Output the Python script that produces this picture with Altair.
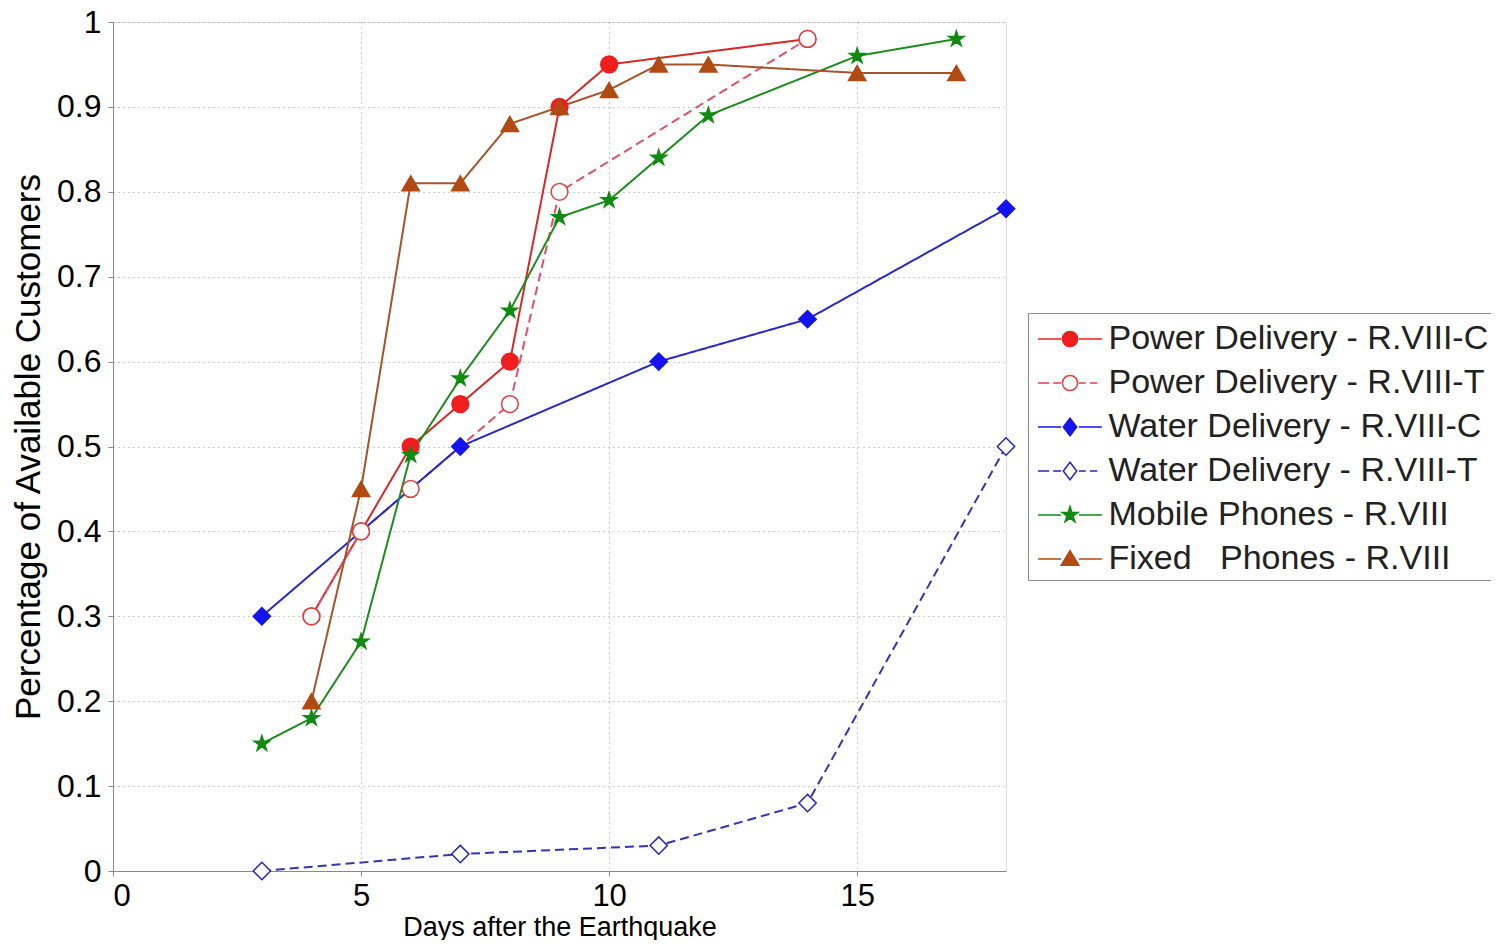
import altair as alt
import pandas as pd

FONT = "Liberation Sans"

series_names = [
    "Power Delivery - R.VIII-C",
    "Power Delivery - R.VIII-T",
    "Water Delivery - R.VIII-C",
    "Water Delivery - R.VIII-T",
    "Mobile Phones - R.VIII",
    "Fixed\u00a0\u00a0\u00a0Phones - R.VIII",
]

power_c_days = [4, 5, 6, 7, 8, 9, 10, 14]
power_c_vals = [0.30, 0.40, 0.50, 0.55, 0.60, 0.90, 0.95, 0.98]

power_t_days = [4, 5, 6, 8, 9, 14]
power_t_vals = [0.30, 0.40, 0.45, 0.55, 0.80, 0.98]

water_c_days = [3, 7, 11, 14, 18]
water_c_vals = [0.30, 0.50, 0.60, 0.65, 0.78]

water_t_days = [3, 7, 11, 14, 18]
water_t_vals = [0.00, 0.02, 0.03, 0.08, 0.50]

mobile_days = [3, 4, 5, 6, 7, 8, 9, 10, 11, 12, 15, 17]
mobile_vals = [0.15, 0.18, 0.27, 0.49, 0.58, 0.66, 0.77, 0.79, 0.84, 0.89, 0.96, 0.98]

fixed_days = [4, 5, 6, 7, 8, 9, 10, 11, 12, 15, 17]
fixed_vals = [0.20, 0.45, 0.81, 0.81, 0.88, 0.90, 0.92, 0.95, 0.95, 0.94, 0.94]

x_ticks = [0, 5, 10, 15]
y_ticks = [0, 0.1, 0.2, 0.3, 0.4, 0.5, 0.6, 0.7, 0.8, 0.9, 1]

all_days = [power_c_days, power_t_days, water_c_days, water_t_days, mobile_days, fixed_days]
all_vals = [power_c_vals, power_t_vals, water_c_vals, water_t_vals, mobile_vals, fixed_vals]

rows = []
for name, ds, vs in zip(series_names, all_days, all_vals):
    for d, v in zip(ds, vs):
        rows.append({"series": name, "day": d, "value": v})
df = pd.DataFrame(rows)

line_colors = ["#d42a2a", "#e0506a", "#2828c8", "#3434b4", "#1e8c1e", "#a5532a"]
marker_colors = ["#f01e1e", "#e04040", "#1414ee", "#2525c0", "#108a10", "#b24a14"]
marker_fills = ["#f01e1e", "white", "#1414ee", "white", "#108a10", "#b24a14"]
dashes = [[1, 0], [9, 5], [1, 0], [9, 5], [1, 0], [1, 0]]

STAR = ("M0,-1L0.223,-0.307L0.951,-0.309L0.361,0.117L0.588,0.809L0,0.38"
        "L-0.588,0.809L-0.361,0.117L-0.951,-0.309L-0.223,-0.307Z")

# legend symbols: line segment(s) + marker, in units of half the symbol size
solid = "M-1.52,0H-0.42M0.42,0H1.52"
dashed = "M-1.52,0H-1.0M-0.8,0H-0.42M0.42,0H0.75M0.95,0H1.3"
circ = "M0.36,0A0.36,0.36 0 1,1 -0.36,0A0.36,0.36 0 1,1 0.36,0Z"
diam = "M0,-0.42L0.32,0L0,0.42L-0.32,0Z"
star_s = ("M0,-0.4L0.089,-0.123L0.38,-0.124L0.144,0.047L0.235,0.324L0,0.152"
          "L-0.235,0.324L-0.144,0.047L-0.38,-0.124L-0.089,-0.123Z")
tri = "M0,-0.4L0.42,0.3L-0.42,0.3Z"
legend_shapes = [
    solid + circ,
    dashed + circ,
    solid + diam,
    dashed + diam,
    solid + star_s,
    solid + tri,
]

grid_kw = dict(grid=True, gridColor="#9a9a9a", gridDash=[1, 4], gridWidth=1)

x_enc = alt.X(
    "day:Q",
    scale=alt.Scale(domain=[0, 18], nice=False, zero=False),
    axis=alt.Axis(values=x_ticks, title="Days after the Earthquake", labelFontSize=31,
                  titleFontSize=27, titleFontWeight="normal", labelPadding=5,
                  titlePadding=3, format="d", **grid_kw),
)
y_enc = alt.Y(
    "value:Q",
    scale=alt.Scale(domain=[0, 1], nice=False),
    axis=alt.Axis(values=y_ticks, title="Percentage of Available Customers", labelFontSize=32,
                  titleFontSize=35, titleFontWeight="normal", labelPadding=7,
                  titlePadding=10, format="~g", **grid_kw),
)

color_scale = alt.Scale(domain=series_names, range=marker_colors)
fill_scale = alt.Scale(domain=series_names, range=marker_fills)

# line scales list the series in reverse so their (hidden) legends stay separate
rev_names = series_names[::-1]
stroke_scale = alt.Scale(domain=rev_names, range=line_colors[::-1])
dash_scale = alt.Scale(domain=rev_names, range=dashes[::-1])

leg = alt.Legend(
    title=None, orient="none", legendX=915, legendY=291,
    symbolSize=1764, symbolStrokeWidth=1.5, symbolOffset=16,
    labelFont=FONT, labelFontSize=34, labelColor="#222", labelLimit=700,
    labelOffset=16.5, rowPadding=5, padding=4,
    strokeColor="#8a8a8a", fillColor="white", cornerRadius=0,
)

base = alt.Chart(df)

lines = base.mark_line(strokeWidth=2).encode(
    x=x_enc,
    y=y_enc,
    stroke=alt.Stroke("series:N", scale=stroke_scale, legend=None),
    strokeDash=alt.StrokeDash("series:N", scale=dash_scale, legend=None),
)


def markers(names, shape, size):
    return base.transform_filter(
        alt.FieldOneOfPredicate(field="series", oneOf=names)
    ).mark_point(shape=shape, size=size, filled=False, strokeWidth=1.5, opacity=1).encode(
        x=x_enc,
        y=y_enc,
        color=alt.Color("series:N", scale=color_scale, legend=leg),
        fill=alt.Fill("series:N", scale=fill_scale, legend=leg),
    )


circles = markers(series_names[0:2], "circle", 280)
diamonds = markers(series_names[2:4], "diamond", 300)
stars = markers(series_names[4:5], STAR, 260)
triangles = markers(series_names[5:6], "triangle-up", 300)

legend_layer = base.transform_filter("false").mark_point(
    filled=False, size=1764, strokeWidth=1.5, opacity=1
).encode(
    x=x_enc,
    y=y_enc,
    color=alt.Color("series:N", scale=color_scale, legend=leg),
    fill=alt.Fill("series:N", scale=fill_scale, legend=leg),
    shape=alt.Shape("series:N", scale=alt.Scale(domain=series_names, range=legend_shapes), legend=leg),
)

chart = alt.layer(legend_layer, lines, circles, diamonds, stars, triangles).properties(
    width=893,
    height=849,
    autosize=alt.AutoSizeParams(type="none"),
    padding={"left": 105, "top": 14, "right": 485, "bottom": 69},
).configure_view(
    stroke="#888888", strokeWidth=1.5
).configure_axis(
    labelFont=FONT, titleFont=FONT, labelColor="#222", titleColor="#222",
    titleFontWeight="normal", ticks=False, tickSize=0, domain=False,
).configure(background="white")

chart.save("out.html", embed_options={"renderer": "svg", "actions": False})
